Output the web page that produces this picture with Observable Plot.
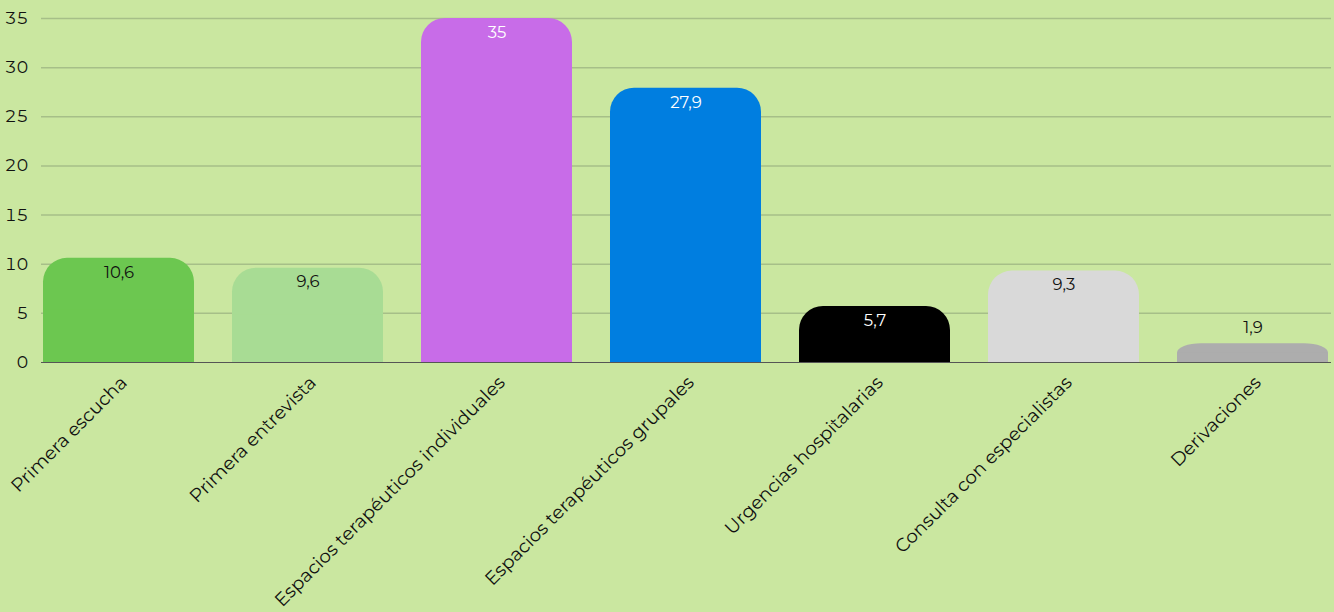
<!DOCTYPE html>
<html>
<head>
<meta charset="utf-8">
<script src="https://cdn.jsdelivr.net/npm/d3@7"></script>
<script src="https://cdn.jsdelivr.net/npm/@observablehq/plot@0.6"></script>
<style>
  html, body { margin: 0; padding: 0; background: #cae7a0; }
  #chart svg { display: block; }
</style>
</head>
<body>
<div id="chart"></div>
<script>
const categories = [
  "Primera escucha",
  "Primera entrevista",
  "Espacios terapéuticos individuales",
  "Espacios terapéuticos grupales",
  "Urgencias hospitalarias",
  "Consulta con especialistas",
  "Derivaciones"
];
const values = [10.6, 9.6, 35, 27.9, 5.7, 9.3, 1.9];
const valueLabels = ["10,6", "9,6", "35", "27,9", "5,7", "9,3", "1,9"];
const yTicks = [0, 5, 10, 15, 20, 25, 30, 35];

const barColors = ["#6cc750", "#a8dc94", "#c86ce8", "#007ee0", "#000000", "#d9d9d9", "#adadad"];
const labelColors = ["#111111", "#111111", "#ffffff", "#ffffff", "#ffffff", "#111111", "#111111"];

const data = categories.map((c, i) => ({
  cat: c, value: values[i], label: valueLabels[i],
  inside: values[i] >= 3, labelColor: labelColors[i]
}));

const font = "Montserrat, 'DejaVu Sans', sans-serif";

const chart = Plot.plot({
  width: 1334,
  height: 612,
  marginLeft: 41,
  marginRight: 3,
  marginTop: 18,
  marginBottom: 250,
  style: { background: "#cae7a0", fontFamily: font, fontSize: "16px", color: "#111" },
  x: { domain: categories, paddingInner: 0.2, paddingOuter: 0, label: null },
  y: { domain: [0, 35], label: null },
  color: { domain: categories, range: barColors },
  marks: [
    Plot.ruleY(yTicks.filter(d => d > 0), { stroke: "#a6bf88", strokeWidth: 1.5 }),
    Plot.barY(data, { x: "cat", y: "value", fill: "cat", rx: 24 }),
    Plot.barY(data, { x: "cat", y1: 0, y2: d => d.value / 2, fill: "cat" }),
    Plot.ruleY([0], { stroke: "#555", strokeWidth: 1 }),
    Plot.text(data.filter(d => d.inside), {
      x: "cat", y: "value", text: "label",
      fill: "labelColor", lineAnchor: "middle", dy: 14, fontSize: 16.5
    }),
    Plot.text(data.filter(d => !d.inside), {
      x: "cat", y: "value", text: "label",
      fill: "labelColor", lineAnchor: "middle", dy: -16, fontSize: 16.5
    }),
    Plot.axisY({ ticks: yTicks, tickSize: 0, tickPadding: 13, fontSize: 17, fill: "#111", label: null }),
    Plot.axisX({ tickSize: 0, tickPadding: 17, dx: 5, tickRotate: -45, fontSize: 18.5, fill: "#111", label: null })
  ]
});
document.getElementById("chart").appendChild(chart);
</script>
</body>
</html>
